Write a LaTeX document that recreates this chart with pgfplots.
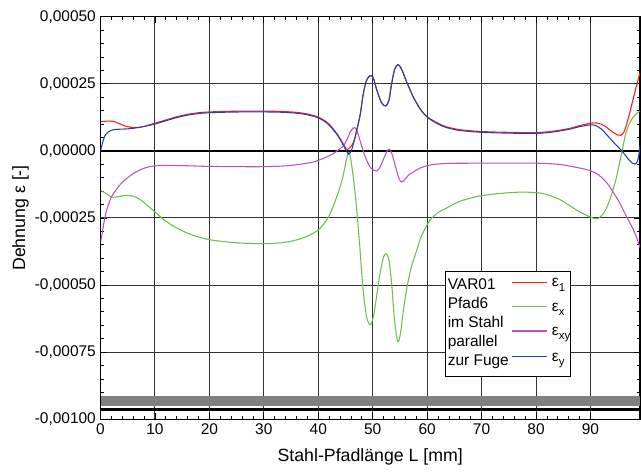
\documentclass[border=0pt]{standalone}
\usepackage{fontspec}
\setmainfont{Liberation Sans}
\usepackage{pgfplots}
\pgfplotsset{compat=1.18}
\definecolor{cRed}{RGB}{255,25,25}
\definecolor{cGreen}{RGB}{110,190,70}
\definecolor{cPurple}{RGB}{190,80,180}
\definecolor{cBlue}{RGB}{35,65,170}
\newcommand{\sub}[1]{\raisebox{-0.55ex}{\fontsize{8.5}{9}\selectfont #1}}
\begin{document}
\begin{tikzpicture}
\begin{axis}[name=ax, scale only axis, width=404.6pt, height=301.9pt,
 xmin=0, xmax=99.1, ymin=-0.001, ymax=0.0005,
 xtick={0,10,...,90}, ytick={-0.001,-0.00075,-0.0005,-0.00025,0,0.00025,0.0005},
 minor x tick num=4, minor y tick num=4,
 scaled y ticks=false,
 tick align=inside,
 major tick length=4.5pt, minor tick length=2.5pt,
 grid=major, major grid style={black!80, line width=0.75pt},
 axis line style={line width=0.9pt},
 every tick/.style={black, line width=0.6pt},
 /pgf/number format/assume math mode=true,
 yticklabel style={/pgf/number format/fixed, /pgf/number format/fixed zerofill, /pgf/number format/precision=5, /pgf/number format/use comma},
 tick label style={font=\fontsize{11.6}{13}\selectfont},
 xlabel={Stahl-Pfadlänge L [mm]}, ylabel={Dehnung ε [-]},
 every axis x label/.style={at={(axis description cs:0.5,-0.104)}, anchor=base, font=\fontsize{13.3}{15}\selectfont},
 every axis y label/.style={at={(axis description cs:-0.140,0.5)}, rotate=90, anchor=base, font=\fontsize{13.3}{15}\selectfont},
]
% gray band and black line
\addplot[draw=none, fill=gray] coordinates {(0,-0.000914) (99.1,-0.000914) (99.1,-0.000951) (0,-0.000951)} -- cycle;
\addplot[black, line width=1.75pt] coordinates {(0,-0.000964) (99.1,-0.000964)};
% zero line
\addplot[black, line width=1.4pt] coordinates {(0,0) (99.1,0)};

% eps_1
\addplot[cRed, line width=0.8pt, smooth] coordinates {
(0,10.9e-5)(0.7,11.0e-5)(1.5,11.1e-5)(2.5,10.9e-5)(3.5,10.1e-5)(4.5,9.3e-5)(5.5,8.8e-5)(6.5,8.7e-5)(7.5,8.9e-5)(8.5,9.4e-5)(10,10.3e-5)(12,11.5e-5)(14,12.7e-5)(16,13.6e-5)(18,14.2e-5)(20,14.5e-5)(23,14.7e-5)(26,14.8e-5)(30,14.8e-5)(33,14.7e-5)(35,14.5e-5)(37,14.1e-5)(38.5,13.5e-5)(40,12.6e-5)(41.5,10.8e-5)(42.7,8.3e-5)(43.7,5.6e-5)(44.5,2.9e-5)(45.2,0.6e-5)(45.7,1.0e-5)(46.2,2.2e-5)(46.7,4.5e-5)(47.1,8.0e-5)(47.7,13.5e-5)(48.2,20.4e-5)(48.8,25.9e-5)(49.5,28.0e-5)(50.1,27.2e-5)(50.7,23.0e-5)(51.6,18.0e-5)(52.4,16.7e-5)(53,19.0e-5)(53.4,24.1e-5)(54,30.2e-5)(54.6,32.1e-5)(55.1,31.2e-5)(55.6,29.0e-5)(56.2,25.8e-5)(56.8,23.0e-5)(57.6,19.5e-5)(58.6,16.0e-5)(59.5,13.6e-5)(60.5,12.0e-5)(62,10.3e-5)(63.5,9.0e-5)(66,7.9e-5)(70,7.2e-5)(75,6.9e-5)(80,6.8e-5)(83,7.3e-5)(86,8.3e-5)(88,9.4e-5)(90,10.3e-5)(91,10.4e-5)(92,9.9e-5)(93,8.7e-5)(94,7.1e-5)(95,5.9e-5)(95.6,5.8e-5)(96.2,7.2e-5)(97,12.5e-5)(97.8,19.0e-5)(98.5,24.5e-5)(99.1,29.2e-5)
};
% eps_x
\addplot[cGreen, line width=0.8pt, smooth] coordinates {
(0,-14.8e-5)(0.8,-15.6e-5)(1.6,-16.8e-5)(2.4,-17.3e-5)(3.2,-17.1e-5)(4.2,-16.7e-5)(5,-16.6e-5)(6,-16.9e-5)(7,-17.8e-5)(8,-19.3e-5)(9,-21.0e-5)(10,-22.8e-5)(12,-26.2e-5)(14,-28.7e-5)(16,-30.7e-5)(18,-32.1e-5)(20,-33.1e-5)(23,-33.9e-5)(26,-34.4e-5)(30,-34.6e-5)(33,-34.3e-5)(35,-33.7e-5)(37,-32.6e-5)(38.5,-31.3e-5)(40,-29.5e-5)(41,-27.2e-5)(42,-24.2e-5)(43,-19.3e-5)(44,-13.5e-5)(44.6,-9.0e-5)(45.2,-3.0e-5)(45.6,-0.6e-5)(46,-3.5e-5)(46.5,-11e-5)(47,-20.4e-5)(47.6,-35e-5)(48.2,-51e-5)(48.8,-61e-5)(49.3,-64.4e-5)(49.7,-64.6e-5)(50.2,-61e-5)(50.8,-53e-5)(51.4,-45e-5)(52,-39.5e-5)(52.5,-38.3e-5)(53,-41e-5)(53.5,-50e-5)(54,-63e-5)(54.6,-71e-5)(55.1,-68e-5)(55.6,-60e-5)(56.2,-52e-5)(57,-44e-5)(58,-37.6e-5)(59,-31.5e-5)(60.5,-25.9e-5)(62,-23e-5)(63.5,-21.4e-5)(66,-18.8e-5)(70,-16.7e-5)(75,-15.6e-5)(78,-15.4e-5)(81,-15.8e-5)(84,-17.8e-5)(86,-20.2e-5)(88,-22.7e-5)(90,-24.7e-5)(91.3,-25.3e-5)(92.5,-23e-5)(93.5,-18.5e-5)(94.7,-10.5e-5)(95.5,-3e-5)(96.5,6.5e-5)(97.5,11.5e-5)(98.5,14e-5)(99.1,14.8e-5)
};
% eps_xy
\addplot[cPurple, line width=0.8pt, smooth] coordinates {
(0,-34e-5)(0.3,-31e-5)(0.6,-27e-5)(1,-23e-5)(1.5,-19.8e-5)(2,-17.2e-5)(2.7,-15.0e-5)(3.5,-12.8e-5)(4.5,-10.8e-5)(5.5,-9.2e-5)(6.5,-7.9e-5)(7.6,-6.8e-5)(8.8,-6.0e-5)(10,-5.6e-5)(12,-5.4e-5)(15,-5.5e-5)(20,-5.8e-5)(25,-5.9e-5)(30,-5.9e-5)(34,-5.6e-5)(37,-4.9e-5)(39,-4.2e-5)(40.3,-3.3e-5)(41.5,-2.3e-5)(42.7,-1.1e-5)(43.7,0.3e-5)(44.6,1.9e-5)(45.3,4.2e-5)(45.9,7.2e-5)(46.6,8.7e-5)(47.1,7.5e-5)(47.6,4.3e-5)(48.2,0.3e-5)(48.8,-3.1e-5)(49.5,-6.0e-5)(50.2,-7.3e-5)(50.7,-7.5e-5)(51.3,-6.3e-5)(52,-3.0e-5)(52.6,-0.2e-5)(53.1,0.6e-5)(53.6,-1.5e-5)(54.2,-6.0e-5)(54.8,-10.2e-5)(55.3,-11.6e-5)(55.9,-10.7e-5)(56.6,-9.0e-5)(57.4,-8.0e-5)(58.6,-6.5e-5)(60.5,-5.3e-5)(63.5,-4.7e-5)(70,-4.6e-5)(80,-4.6e-5)(84,-5.0e-5)(86,-5.6e-5)(88,-6.4e-5)(90,-7.4e-5)(91.5,-9.0e-5)(92.9,-11.7e-5)(94,-14.8e-5)(95.3,-19.1e-5)(96.5,-24e-5)(97.8,-29e-5)(98.6,-33e-5)(99.1,-36e-5)
};
% eps_y
\addplot[cBlue, line width=0.8pt, smooth] coordinates {
(0,0)(0.3,2.5e-5)(0.8,5.6e-5)(1.4,7.0e-5)(2,7.7e-5)(3,8.0e-5)(4,8.1e-5)(5,8.2e-5)(6,8.4e-5)(7,8.7e-5)(8.5,9.3e-5)(10,10.0e-5)(12,11.2e-5)(14,12.4e-5)(16,13.3e-5)(18,13.9e-5)(20,14.2e-5)(23,14.4e-5)(26,14.5e-5)(30,14.5e-5)(33,14.4e-5)(35,14.2e-5)(37,13.8e-5)(38.5,13.2e-5)(40,12.3e-5)(41.5,10.5e-5)(42.7,8.0e-5)(43.7,5.3e-5)(44.5,2.5e-5)(45.1,0.2e-5)(45.6,-1.2e-5)(46.1,0.2e-5)(46.6,3.8e-5)(47.1,8.0e-5)(47.7,13.5e-5)(48.2,20.4e-5)(48.8,25.9e-5)(49.5,28.0e-5)(50.1,27.2e-5)(50.7,23.0e-5)(51.6,18.0e-5)(52.4,16.7e-5)(53,19.0e-5)(53.4,24.1e-5)(54,30.2e-5)(54.6,32.1e-5)(55.1,31.2e-5)(55.6,29.0e-5)(56.2,25.8e-5)(56.8,23.0e-5)(57.6,19.5e-5)(58.6,16.0e-5)(59.5,13.6e-5)(60.5,11.8e-5)(62,10.0e-5)(63.5,8.7e-5)(66,7.6e-5)(70,6.9e-5)(75,6.6e-5)(80,6.5e-5)(83,7.0e-5)(86,8.0e-5)(88,9.0e-5)(90,9.7e-5)(91,9.4e-5)(92,8.1e-5)(93,6.0e-5)(94,3.7e-5)(95,1.6e-5)(96,-0.6e-5)(97,-3.2e-5)(97.7,-4.6e-5)(98.2,-4.9e-5)(98.6,-4.0e-5)(98.9,-1.5e-5)(99.1,2.0e-5)
};

% legend
\draw[fill=white, line width=0.6pt] (rel axis cs:0.6386,0.3682) rectangle (rel axis cs:0.8702,0.1073);
\begin{scope}[every node/.style={inner sep=0pt, anchor=base west, font=\fontsize{11.6}{13}\selectfont}]
\node at (rel axis cs:0.6432,0.3222) {VAR01};
\node at (rel axis cs:0.6432,0.2758) {Pfad6};
\node at (rel axis cs:0.6432,0.2271) {im Stahl};
\node at (rel axis cs:0.6432,0.1806) {parallel};
\node at (rel axis cs:0.6432,0.1334) {zur Fuge};
\node at (rel axis cs:0.8363,0.3291) {ε\sub{1}};
\node at (rel axis cs:0.8363,0.2685) {ε\sub{x}};
\node at (rel axis cs:0.8363,0.2081) {ε\sub{xy}};
\node at (rel axis cs:0.8363,0.1443) {ε\sub{y}};
\end{scope}
\draw[cRed, line width=0.8pt] (rel axis cs:0.7622,0.3401) -- (rel axis cs:0.8282,0.3401);
\draw[cGreen, line width=0.8pt] (rel axis cs:0.7622,0.2795) -- (rel axis cs:0.8282,0.2795);
\draw[cPurple, line width=0.8pt] (rel axis cs:0.7622,0.2191) -- (rel axis cs:0.8282,0.2191);
\draw[cBlue, line width=0.8pt] (rel axis cs:0.7622,0.1553) -- (rel axis cs:0.8282,0.1553);
\end{axis}
\pgfresetboundingbox
\path[use as bounding box] ([xshift=-75.4pt,yshift=-39.6pt]ax.south west) rectangle ([xshift=0.75pt,yshift=12.5pt]ax.north east);
\end{tikzpicture}
\end{document}
